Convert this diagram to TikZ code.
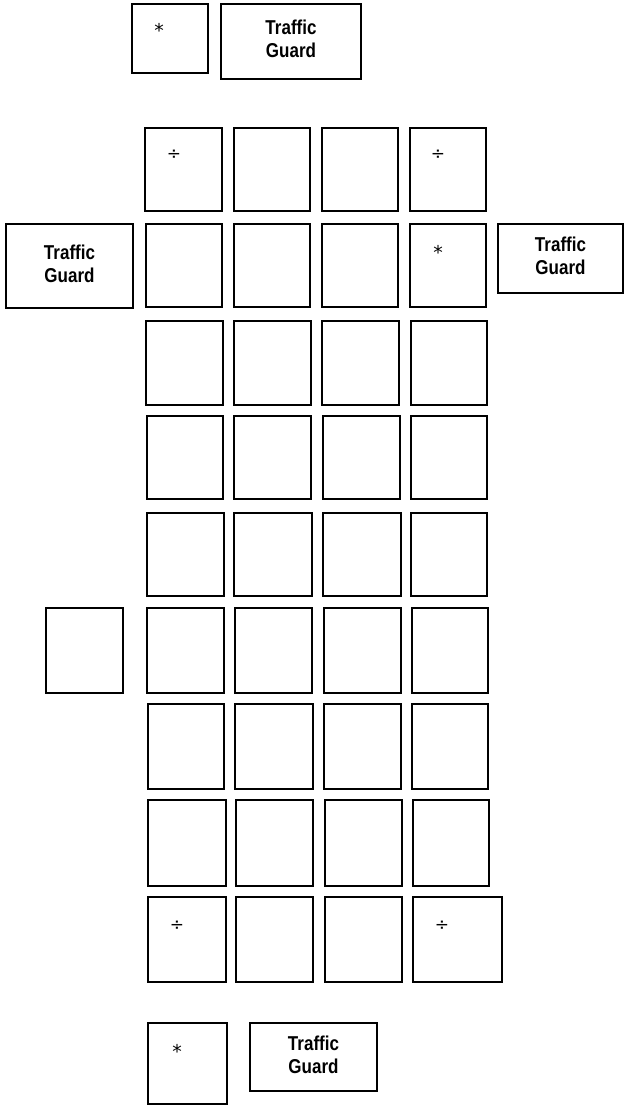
\documentclass[tikz,border=0pt]{standalone}
\usepackage{graphicx}
\usepackage{fontspec}
\setmainfont{Liberation Sans}
\newfontfamily\symf{DejaVu Sans}
\tikzset{
  x=1pt, y=-1pt,
  boxst/.style={draw, line width=1.3pt, inner sep=0pt},
  symst/.style={inner sep=0pt, font=\symf\fontsize{17}{17}\selectfont},
  astst/.style={inner sep=0pt, font=\symf\fontsize{19}{19}\selectfont},
}
\newcommand\bx[6]{\node[boxst, minimum width={#4-#2}, minimum height={#5-#3}] (#1) at ({(#2+#4)/2},{(#3+#5)/2}) {#6};}
\newcommand\tgtext{\scalebox{1}[1.18]{\bfseries\fontsize{17}{19.5}\selectfont\begin{tabular}{@{}c@{}}Traffic\\Guard\end{tabular}}}
\begin{document}
\begin{tikzpicture}
\useasboundingbox (0,0) rectangle (624,1105);
% top
\bx{s0}{132}{4}{208}{73}{}
\bx{tg0}{221}{4}{361}{79}{\tgtext}
% row 1
\bx{r1c1}{145}{128}{222}{211}{}
\bx{r1c2}{234}{128}{310}{211}{}
\bx{r1c3}{322}{128}{398}{211}{}
\bx{r1c4}{410}{128}{486}{211}{}
% row 2
\bx{tgl}{6}{224}{133}{308}{\tgtext}
\bx{r2c1}{146}{224}{222}{307}{}
\bx{r2c2}{234}{224}{310}{307}{}
\bx{r2c3}{322}{224}{398}{307}{}
\bx{r2c4}{410}{224}{486}{307}{}
\bx{tgr}{498}{224}{623}{293}{\tgtext}
% row 3
\bx{r3c1}{146}{321}{223}{405}{}
\bx{r3c2}{234}{321}{311}{405}{}
\bx{r3c3}{322}{321}{399}{405}{}
\bx{r3c4}{411}{321}{487}{405}{}
% row 4
\bx{r4c1}{147}{416}{223}{499}{}
\bx{r4c2}{234}{416}{311}{499}{}
\bx{r4c3}{323}{416}{400}{499}{}
\bx{r4c4}{411}{416}{487}{499}{}
% row 5
\bx{r5c1}{147}{513}{224}{596}{}
\bx{r5c2}{234}{513}{312}{596}{}
\bx{r5c3}{323}{513}{401}{596}{}
\bx{r5c4}{411}{513}{487}{596}{}
% row 6
\bx{r6c0}{46}{608}{123}{693}{}
\bx{r6c1}{147}{608}{224}{693}{}
\bx{r6c2}{235}{608}{312}{693}{}
\bx{r6c3}{324}{608}{401}{693}{}
\bx{r6c4}{412}{608}{488}{693}{}
% row 7
\bx{r7c1}{148}{704}{224}{789}{}
\bx{r7c2}{235}{704}{313}{789}{}
\bx{r7c3}{324}{704}{401}{789}{}
\bx{r7c4}{412}{704}{488}{789}{}
% row 8
\bx{r8c1}{148}{800}{226}{886}{}
\bx{r8c2}{236}{800}{313}{886}{}
\bx{r8c3}{325}{800}{402}{886}{}
\bx{r8c4}{413}{800}{489}{886}{}
% row 9
\bx{r9c1}{148}{897}{226}{982}{}
\bx{r9c2}{236}{897}{313}{982}{}
\bx{r9c3}{325}{897}{402}{982}{}
\bx{r9c4}{413}{897}{502}{982}{}
% bottom
\bx{s10}{148}{1023}{227}{1104}{}
\bx{tg10}{250}{1023}{377}{1091}{\tgtext}
% symbols
\node[astst] (m0) at (159,30) {*};
\node[symst] (m1) at (174,155) {÷};
\node[symst] (m2) at (438,155) {÷};
\node[astst] (m3) at (438,252) {*};
\node[symst] (m4) at (177,926) {÷};
\node[symst] (m5) at (442,926) {÷};
\node[astst] (m6) at (177,1051) {*};
\end{tikzpicture}
\end{document}
